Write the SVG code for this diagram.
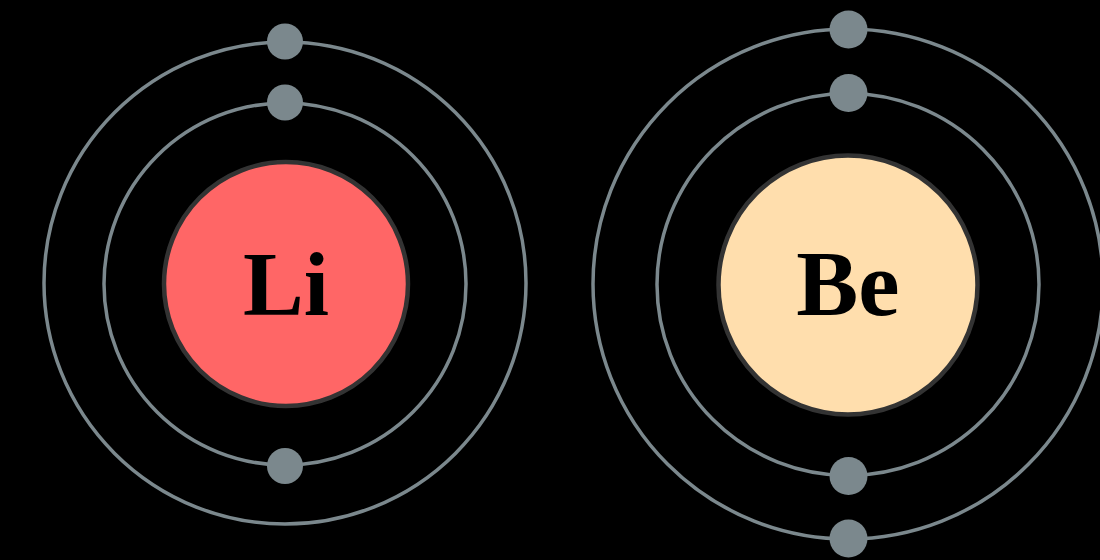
<svg xmlns="http://www.w3.org/2000/svg" width="1100" height="560" viewBox="0 0 1100 560">
  <style>
    .shell { fill: none; stroke: #7b888d; stroke-width: 3.5; }
    .nucleus { stroke: #333333; stroke-width: 4.5; }
    .electron { fill: #7b888d; }
    .symbol { font-family: "Liberation Serif", "DejaVu Serif", serif; font-weight: bold; fill: #000000; text-anchor: middle; }
  </style>
  <rect x="0" y="0" width="1100" height="560" fill="#000000"/>

  <!-- Lithium: 2 shells, 3 electrons -->
  <g id="lithium">
    <circle class="shell" cx="285" cy="283" r="241"/>
    <circle class="shell" cx="285" cy="284" r="181"/>
    <circle class="nucleus" cx="286" cy="284" r="122" fill="#ff6666"/>
    <text class="symbol" x="286" y="315" font-size="91">Li</text>
    <circle class="electron" cx="285" cy="41.5" r="18"/>
    <circle class="electron" cx="285" cy="102.5" r="18"/>
    <circle class="electron" cx="285" cy="466" r="18"/>
  </g>

  <!-- Beryllium: 2 shells, 4 electrons -->
  <g id="beryllium">
    <circle class="shell" cx="848" cy="284" r="255"/>
    <circle class="shell" cx="848" cy="284.5" r="191"/>
    <circle class="nucleus" cx="848" cy="285" r="129.5" fill="#ffdead"/>
    <text class="symbol" x="848" y="315" font-size="93">Be</text>
    <circle class="electron" cx="848.5" cy="29.5" r="19"/>
    <circle class="electron" cx="848.5" cy="93" r="19"/>
    <circle class="electron" cx="848.5" cy="476" r="19"/>
    <circle class="electron" cx="848.5" cy="538.5" r="19"/>
  </g>
</svg>
